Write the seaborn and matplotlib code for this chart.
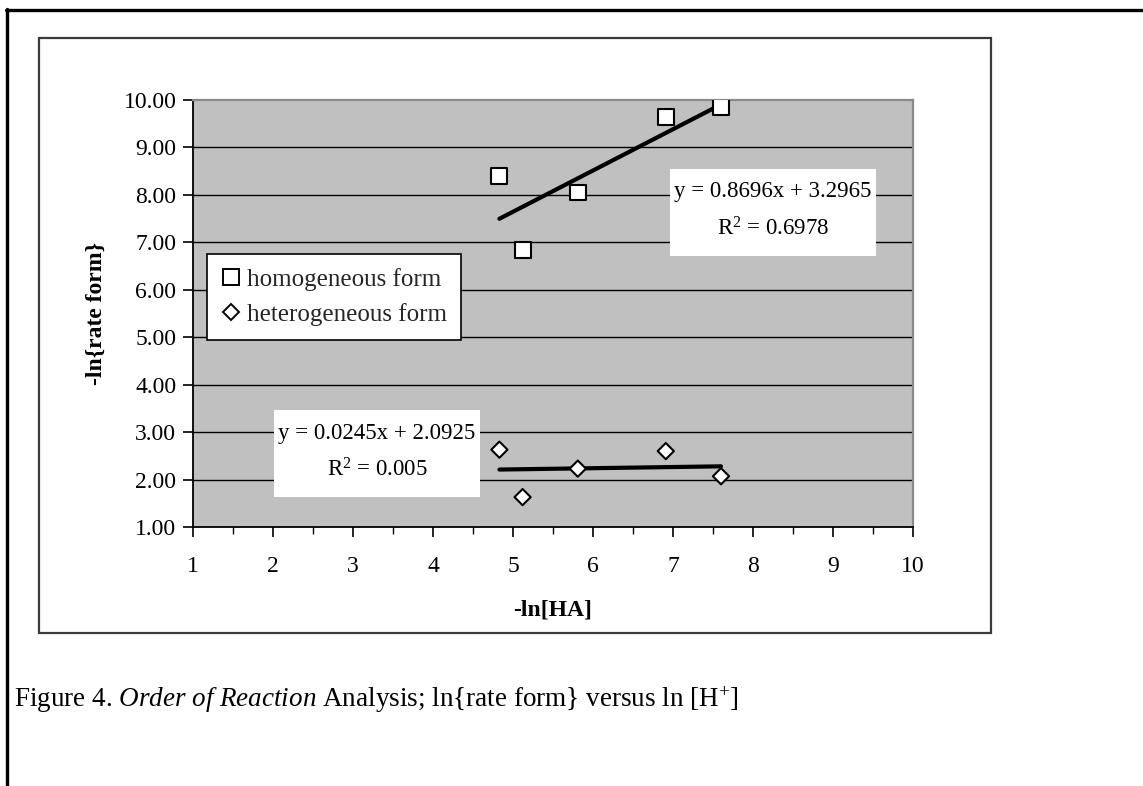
import matplotlib
matplotlib.use("Agg")
import matplotlib.pyplot as plt
from matplotlib.lines import Line2D
from matplotlib.patches import Rectangle
import numpy as np
import pandas as pd
import seaborn as sns

# -ln[HA] values shared by both forms
neg_ln_ha = [4.83, 5.12, 5.81, 6.91, 7.60]
# -ln{rate form} per form
homogeneous = [8.40, 6.83, 8.05, 9.65, 9.85]
heterogeneous = [2.63, 1.63, 2.23, 2.60, 2.07]
forms = ["homogeneous form", "heterogeneous form"]

# Linear trendline coefficients (slope, intercept, R^2)
fit_slopes = [0.8696, 0.0245]
fit_intercepts = [3.2965, 2.0925]
fit_r2 = ["0.6978", "0.005"]

x_ticks = [1, 2, 3, 4, 5, 6, 7, 8, 9, 10]
y_ticks = [1.0, 2.0, 3.0, 4.0, 5.0, 6.0, 7.0, 8.0, 9.0, 10.0]

df = pd.DataFrame({
    "x": neg_ln_ha * 2,
    "y": homogeneous + heterogeneous,
    "form": [forms[0]] * len(neg_ln_ha) + [forms[1]] * len(neg_ln_ha),
})

sns.set_theme(style="white")
plt.rcParams["font.family"] = ["Liberation Serif", "DejaVu Serif"]
plt.rcParams["mathtext.fontset"] = "custom"
plt.rcParams["mathtext.rm"] = "Liberation Serif"
plt.rcParams["mathtext.it"] = "Liberation Serif:italic"
plt.rcParams["mathtext.bf"] = "Liberation Serif:bold"

W, H = 1143, 786
fig = plt.figure(figsize=(W / 100, H / 100), dpi=100)
fig.patch.set_facecolor("white")


def fx(px):
    return px / W


def fy(py):
    return 1 - py / H


# Page frame (top and left edges)
fig.add_artist(Line2D([fx(6), fx(1143)], [fy(10), fy(10)], color="black", lw=2.4))
fig.add_artist(Line2D([fx(7), fx(7)], [fy(9), fy(786)], color="black", lw=2.4))

# Chart area border
fig.add_artist(Rectangle((fx(39), fy(633)), fx(991) - fx(39), fy(38) - fy(633),
                         fill=False, edgecolor="#3a3a3a", lw=1.6))

ax = fig.add_axes([fx(193), fy(527), fx(913) - fx(193), fy(100) - fy(527)])
ax.set_facecolor("#C0C0C0")
ax.set_xlim(1, 10)
ax.set_ylim(1, 10)

for yv in y_ticks[1:-1]:
    ax.axhline(yv, color="black", lw=1.0, zorder=0.5)

# Trendlines
for slope, icpt in zip(fit_slopes, fit_intercepts):
    xs = np.array([min(neg_ln_ha), max(neg_ln_ha)])
    ax.plot(xs, slope * xs + icpt, color="black", lw=3.0, zorder=2)

sns.scatterplot(data=df, x="x", y="y", style="form",
                markers={forms[0]: "s", forms[1]: "D"},
                s=120, color="white", edgecolor="black",
                linewidth=1.5, legend=False, ax=ax, zorder=3)
# Diamonds slightly smaller than squares
coll = ax.collections[-1]
coll.set_sizes(np.where(df["form"] == forms[0], 130, 68))

ax.set_xticks(x_ticks)
ax.set_xticks(np.arange(1.5, 10, 1.0), minor=True)
ax.set_yticks(y_ticks)
ax.set_yticklabels([f"{v:.2f}" for v in y_ticks])
ax.tick_params(axis="both", which="major", direction="out", length=7, width=1.2,
               color="black", labelsize=17, labelcolor="black")
ax.tick_params(axis="x", which="major", pad=14)
ax.tick_params(axis="y", which="major", pad=5)
ax.tick_params(axis="x", which="minor", direction="out", length=5, width=1.0,
               color="black", bottom=True)
ax.tick_params(bottom=True, left=True)

for side in ["left", "bottom"]:
    ax.spines[side].set_color("black")
    ax.spines[side].set_linewidth(1.3)
for side in ["top", "right"]:
    ax.spines[side].set_color("#8a8a8a")
    ax.spines[side].set_linewidth(1.6)

ax.set_xlabel("-ln[HA]", fontsize=17, fontweight="bold", labelpad=16, color="black")
ax.set_ylabel("-ln{rate form}", fontsize=17, fontweight="bold", labelpad=12, color="black")

# Equation boxes (white background, no border)
eq_boxes = [(670, 169, 876, 256), (274, 410, 480, 497)]
for slope, icpt, r2, (x0, y0, x1, y1) in zip(fit_slopes, fit_intercepts, fit_r2, eq_boxes):
    fig.add_artist(Rectangle((fx(x0), fy(y1)), fx(x1) - fx(x0), fy(y0) - fy(y1),
                             facecolor="white", edgecolor="none", zorder=4))
    cx = fx((x0 + x1) / 2)
    fig.text(cx, fy(y0 + 23), f"y = {slope}x + {icpt}", fontsize=16.5,
             ha="center", va="center", color="black", zorder=5)
    fig.text(cx, fy(y0 + 60), f"R$^2$ = {r2}", fontsize=16.5,
             ha="center", va="center", color="black", zorder=5)

# Legend
handles = [
    Line2D([], [], ls="none", marker="s", markersize=11.5, mfc="white", mec="black", mew=1.4),
    Line2D([], [], ls="none", marker="D", markersize=8.2, mfc="white", mec="black", mew=1.4),
]
leg = ax.legend(handles, forms, loc="upper left",
                bbox_to_anchor=(fx(207), fy(254)), bbox_transform=fig.transFigure,
                fontsize=18, frameon=True, fancybox=False, framealpha=1,
                edgecolor="black", handlelength=0.8, handletextpad=0.25,
                borderpad=0.55, labelspacing=0.5, borderaxespad=0)
leg.get_frame().set_linewidth(1.2)
leg.set_zorder(5)

# Caption
fig.text(fx(14), fy(700),
         r"Figure 4. $\mathit{Order\ of\ Reaction}$ Analysis; ln{rate form} versus ln [H$^{+}$]",
         fontsize=19.5, ha="left", va="center", color="black")

fig.savefig("out.png", dpi=100, facecolor="white")
